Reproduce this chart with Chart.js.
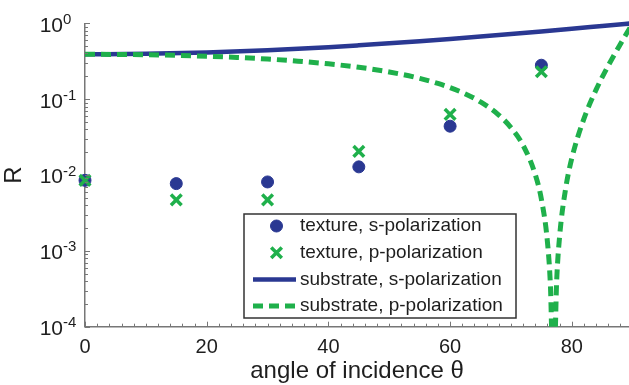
<!DOCTYPE html>
<html><head><meta charset="utf-8">
<style>
html,body{margin:0;padding:0;overflow:hidden;background:#fff;width:629px;height:385px}
canvas{display:block}
</style>
<script src="https://cdn.jsdelivr.net/npm/chart.js@4/dist/chart.umd.min.js"></script>
</head><body><canvas id="c" width="629" height="385"></canvas>
<script>
// ---- data ----
const textureAngles = [0, 15, 30, 45, 60, 75];
const textureS = [0.0085, 0.0077, 0.0081, 0.0128, 0.044, 0.28];
const textureP = [0.0085, 0.0047, 0.0047, 0.0205, 0.063, 0.23];

const substrateSAngles = [0, 10, 20, 30, 40, 45, 50, 55, 60, 65, 70, 75, 80, 85, 90];
const substrateS = [0.390, 0.396, 0.413, 0.442, 0.485, 0.513, 0.545, 0.581, 0.623, 0.670, 0.723, 0.782, 0.848, 0.921, 1.0];

const substratePAngles = [0, 5, 10, 15, 20, 25, 30, 35, 40, 45, 50, 55, 58, 60, 62, 65, 68, 70, 72, 74, 75, 76, 76.5, 76.8, 77.2, 77.5, 78, 79, 80, 82, 84, 86, 88, 89, 90];
const substrateP = [0.390, 0.389, 0.385, 0.378, 0.368, 0.355, 0.338, 0.317, 0.292, 0.263, 0.228, 0.188, 0.161, 0.142, 0.1225, 0.092, 0.0617, 0.0422, 0.0246, 0.0101, 0.0048, 0.0013, 0.00033, 0.000055, 0.000062, 0.00038, 0.00156, 0.0067, 0.0166, 0.0553, 0.1334, 0.277, 0.535, 0.733, 1.0];

const seriesLabels = ['texture, s-polarization', 'texture, p-polarization', 'substrate, s-polarization', 'substrate, p-polarization'];
const xTicks = [0, 20, 40, 60, 80];
const xVisibleMax = 89.4;   // the reference picture is cropped just before 90
const yTickExponents = [0, -1, -2, -3, -4];
const xTitle = 'angle of incidence \u03b8';
const yTitle = 'R';

// ---- styling ----
const BLUE = '#2a3892', GREEN = '#1fb04b', AXIS = '#777', TEXT = '#1e1e1e';
const FONT = '"Liberation Sans", Arial, Helvetica, sans-serif';
const DASH = [10, 6];

const pts = (xs, ys) => xs.map((x, i) => ({x, y: ys[i]}));

const insideTicks = {
  id: 'insideTicks',
  afterDraw(chart) {
    const {ctx, chartArea: a, scales: {x, y}} = chart;
    ctx.save();
    ctx.strokeStyle = AXIS; ctx.lineWidth = 1;
    ctx.beginPath();
    for (let v = x.min; v <= x.max; v += 2) {
      const px = Math.round(x.getPixelForValue(v)) + 0.5;
      const len = xTicks.includes(v) ? 5 : 3;
      ctx.moveTo(px, a.bottom); ctx.lineTo(px, a.bottom - len);
    }
    const eMin = Math.min(...yTickExponents), eMax = Math.max(...yTickExponents);
    for (let e = eMin; e <= eMax; e++) {
      for (let m = 1; m < 10; m++) {
        if (e === eMax && m > 1) break;
        const py = Math.round(y.getPixelForValue(m * Math.pow(10, e))) + 0.5;
        const len = m === 1 ? 5 : 3;
        ctx.moveTo(a.left, py); ctx.lineTo(a.left + len, py);
      }
    }
    ctx.stroke();
    // y tick labels: 10 with superscript exponent
    ctx.fillStyle = TEXT;
    yTickExponents.forEach(e => {
      const py = y.getPixelForValue(Math.pow(10, e));
      const xr = a.left - 22;
      ctx.font = '21px ' + FONT;
      ctx.textAlign = 'right'; ctx.textBaseline = 'alphabetic';
      ctx.fillText('10', xr, py + 8.4);
      ctx.font = '15px ' + FONT;
      ctx.textAlign = 'left';
      ctx.fillText(String(e), xr, py + 0.5);
    });
    ctx.restore();
  }
};

const legendBox = {
  id: 'legendBox',
  afterDraw(chart) {
    const {ctx, chartArea: a} = chart;
    const L = a.left + 159, T = a.top + 190.7, W = 272, H = 104;
    ctx.save();
    ctx.fillStyle = '#fff'; ctx.fillRect(L, T, W, H);
    ctx.strokeStyle = '#333'; ctx.lineWidth = 1.5; ctx.strokeRect(L, T, W, H);
    chart.data.datasets.forEach((ds, i) => {
      const cy = T + 12 + i * 26.7;
      ctx.save();
      if (ds.showLine) {
        ctx.strokeStyle = ds.borderColor; ctx.lineWidth = ds.borderWidth;
        ctx.setLineDash(ds.borderDash || []);
        ctx.beginPath(); ctx.moveTo(L + 9, cy); ctx.lineTo(L + 52, cy); ctx.stroke();
      } else {
        ctx.fillStyle = ds.backgroundColor; ctx.strokeStyle = ds.borderColor;
        ctx.lineWidth = ds.borderWidth;
        Chart.helpers.drawPoint(ctx, {pointStyle: ds.pointStyle, radius: ds.pointRadius, rotation: 0, borderWidth: ds.borderWidth}, L + 32.5, cy);
      }
      ctx.restore();
      ctx.fillStyle = TEXT; ctx.font = '19px ' + FONT;
      ctx.textAlign = 'left'; ctx.textBaseline = 'middle';
      ctx.fillText(ds.label, L + 56, cy);
    });
    ctx.restore();
  }
};

new Chart(document.getElementById('c'), {
  type: 'scatter',
  data: {
    datasets: [
      {label: seriesLabels[0], data: pts(textureAngles, textureS), showLine: false,
       pointStyle: 'circle', pointRadius: 6, borderWidth: 1, backgroundColor: BLUE, borderColor: BLUE, order: 2, clip: false},
      {label: seriesLabels[1], data: pts(textureAngles, textureP), showLine: false,
       pointStyle: 'crossRot', pointRadius: 7.5, borderWidth: 3.5, backgroundColor: GREEN, borderColor: GREEN, order: 1, clip: false},
      {label: seriesLabels[2], data: pts(substrateSAngles, substrateS), showLine: true,
       pointRadius: 0, borderWidth: 4.5, borderColor: BLUE, backgroundColor: BLUE, cubicInterpolationMode: 'monotone', order: 4,
       clip: {left: 5, top: 5, right: 10, bottom: 0}},
      {label: seriesLabels[3], data: pts(substratePAngles, substrateP), showLine: true,
       pointRadius: 0, borderWidth: 5, borderColor: GREEN, backgroundColor: GREEN, borderDash: DASH, cubicInterpolationMode: 'monotone', order: 3,
       clip: {left: 5, top: 5, right: 10, bottom: 0}}
    ]
  },
  options: {
    responsive: false, maintainAspectRatio: false, animation: false, devicePixelRatio: 1,
    events: [],
    layout: {autoPadding: false, padding: {top: 23.3, right: 0, bottom: 0, left: 0}},
    plugins: {legend: {display: false}, tooltip: {enabled: false}},
    scales: {
      x: {type: 'linear', min: 0, max: xVisibleMax,
        afterBuildTicks: s => { s.ticks = xTicks.map(v => ({value: v})); },
        ticks: {font: {size: 20, family: FONT}, color: TEXT, padding: 9, maxRotation: 0, autoSkip: false},
        grid: {display: false, drawTicks: false},
        border: {display: true, color: AXIS, width: 1.5},
        title: {display: true, text: xTitle, font: {size: 24, family: FONT}, color: TEXT, padding: {top: 0, bottom: -1}},
        afterFit: s => { s.height = 58.3; s.paddingRight = 0; s.paddingLeft = 0; }
      },
      y: {type: 'logarithmic', min: 1e-4, max: 1,
        ticks: {display: false},
        grid: {display: false, drawTicks: false},
        border: {display: true, color: AXIS, width: 1.5},
        title: {display: true, text: yTitle, font: {size: 24, family: FONT}, color: TEXT, padding: 0},
        afterFit: s => { s.width = 85; s.paddingTop = 0; s.paddingBottom = 0; }
      }
    }
  },
  plugins: [insideTicks, legendBox]
});
</script>
</body></html>
